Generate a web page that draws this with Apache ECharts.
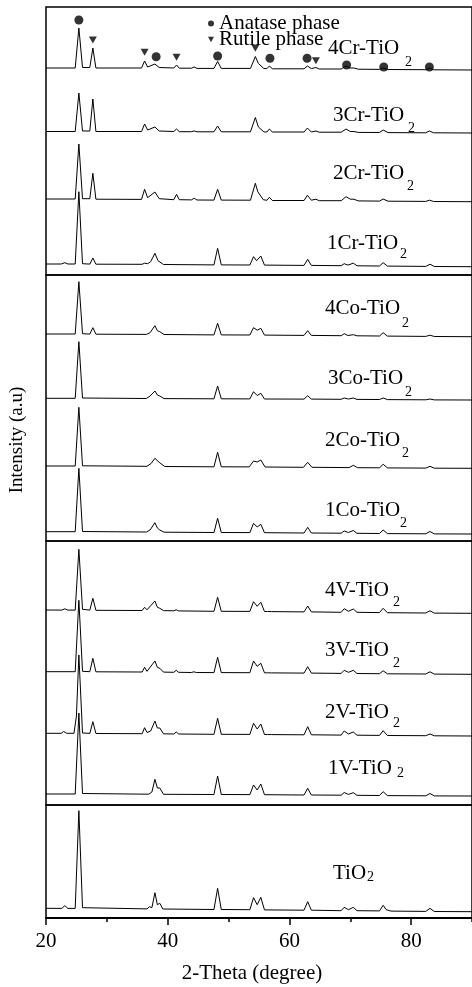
<!DOCTYPE html>
<html>
<head>
<meta charset="utf-8">
<script src="https://cdn.jsdelivr.net/npm/echarts@6/dist/echarts.min.js"></script>
<style>
  html, body { margin: 0; padding: 0; background: #fff; }
  #chart { width: 472px; height: 987px; }
</style>
</head>
<body>
<div id="chart"></div>
<script>
// XRD patterns: [2-theta (degree), intensity (a.u.)]
const xrd4Cr = [[20,2],[24.8,2],[25.4,42],[26.0,2.5],[27.2,2.5],[27.7,22],[28.2,2],[35.7,2],[36.2,9],[36.7,3],[37.9,6],[38.6,2.5],[41.0,2],[41.45,5],[41.9,1.8],[43.9,1.8],[44.35,3],[44.8,1.6],[47.6,1.6],[48.2,8.5],[48.8,1.6],[53.6,1.6],[54.4,13.5],[54.9,6.5],[55.2,6],[55.8,1.5],[56.3,1.4],[56.7,4],[57.2,1.2],[62.4,1.2],[62.95,4],[63.6,1.4],[64.35,2.5],[64.9,1],[68.5,1],[69.3,4],[70.0,2],[70.6,2],[71.3,0.8],[74.8,0.6],[75.4,2],[76.2,0.5],[82.4,0.3],[83.0,2],[83.7,0.2],[90,0]];
const xrd3Cr = [[20,1.5],[24.8,1.5],[25.4,40],[26.0,2],[27.2,2],[27.7,34],[28.2,1.5],[35.7,1.5],[36.2,9],[36.7,3],[37.9,6],[38.6,2],[41.0,1.5],[41.45,4],[41.9,1.3],[43.9,1.3],[44.35,2],[44.8,1.2],[47.6,1.2],[48.2,7],[48.8,1.2],[53.6,1.2],[54.4,15.5],[54.9,6],[55.2,5],[55.8,1.1],[56.3,1],[56.7,4],[57.2,1],[62.4,1],[62.95,5],[63.6,1],[64.35,2],[64.9,0.8],[68.5,0.8],[69.3,4],[70.0,1.5],[70.6,1.5],[71.3,0.6],[74.8,0.5],[75.4,3],[76.2,0.4],[82.4,0.2],[83.0,2],[83.7,0.2],[90,0]];
const xrd2Cr = [[20,2.7],[24.8,2.7],[25.4,57.7],[26.0,3],[27.2,3],[27.7,28.4],[28.2,2.5],[35.7,2.3],[36.2,12.4],[36.7,4],[37.9,9.7],[38.6,3],[41.0,2],[41.45,7.4],[41.9,2],[43.9,1.8],[44.35,3.5],[44.8,1.7],[47.6,1.6],[48.2,12.4],[48.8,1.6],[53.6,1.5],[54.4,18.4],[54.8,10],[55.1,10],[55.7,2],[56.3,1.4],[56.7,4.4],[57.2,1.2],[62.4,1.2],[62.95,6.4],[63.6,1.5],[64.35,2.5],[64.9,1],[68.5,1],[69.3,5],[70.0,2.5],[70.6,2.5],[71.3,0.8],[74.8,0.6],[75.4,2.7],[76.2,0.5],[82.4,0.3],[83.0,1.5],[83.7,0.2],[90,0]];
const xrd1Cr = [[20,2.7],[22.5,2.7],[23.1,4],[23.6,2.7],[24.8,2.7],[25.4,75],[26.0,3],[27.2,2.6],[27.7,8.7],[28.2,2.5],[35.8,2.4],[36.2,3.5],[36.7,3],[37.2,5],[37.5,5.5],[37.9,13.4],[38.4,6],[38.7,6],[39.3,2.2],[47.6,1.8],[48.2,18.4],[48.8,1.8],[53.5,1.7],[54.1,10],[54.6,6],[54.9,8],[55.3,10.7],[55.9,1.6],[62.4,1.3],[63.0,7.4],[63.6,1.3],[68.5,1],[69.0,3],[69.6,1.6],[70.5,3.5],[71.1,0.9],[74.8,0.7],[75.4,4],[76.1,0.6],[82.4,0.3],[83.1,2.5],[83.8,0.2],[90,0]];
const xrd4Co = [[20,2.7],[24.8,2.7],[25.4,55],[26.0,3],[27.2,2.6],[27.7,9],[28.2,2.5],[36.5,2.3],[37.1,4],[37.9,11],[38.3,6],[38.7,5],[39.4,2.2],[47.6,1.8],[48.2,13.4],[48.8,1.8],[53.5,1.7],[54.1,9],[54.7,6.5],[55.3,8.4],[55.9,1.6],[62.4,1.3],[63.0,6],[63.6,1.3],[68.5,1],[69.0,3],[69.6,1.2],[70.5,2],[71.1,0.9],[74.8,0.7],[75.4,4],[76.1,0.6],[82.4,0.3],[83.1,1.5],[83.8,0.2],[90,0]];
const xrd3Co = [[20,1.7],[24.8,1.7],[25.4,58.3],[26.0,2],[36.5,1.5],[37.1,4],[37.9,9],[38.3,5],[38.7,4],[39.4,1.4],[47.6,1.2],[48.2,14],[48.8,1.2],[53.5,1.1],[54.1,8.3],[54.7,4.5],[55.3,6.7],[55.9,1],[62.4,0.9],[63.0,4.3],[63.6,0.9],[68.5,0.7],[69.0,2],[69.7,1],[70.5,2],[71.1,0.6],[74.8,0.5],[75.4,2],[76.1,0.4],[82.4,0.2],[83.1,1],[83.8,0.1],[90,0]];
const xrd2Co = [[20,2.3],[24.8,2.3],[25.4,61],[26.0,2.5],[36.6,2],[37.3,5],[37.9,10],[38.6,6],[39.5,1.8],[47.6,1.5],[48.2,16],[48.8,1.5],[53.4,1.4],[54.1,7.3],[54.7,6.3],[55.3,8.3],[56.0,1.3],[62.3,1],[63.0,6],[63.7,1],[69.8,0.7],[70.5,3],[71.2,0.6],[74.8,0.5],[75.4,4],[76.1,0.4],[82.4,0.2],[83.1,2],[83.8,0.1],[90,0]];
const xrd1Co = [[20,2.3],[24.8,2.3],[25.4,65.7],[26.0,2.5],[36.5,2],[37.1,4],[37.9,11.3],[38.3,6],[38.7,4],[39.4,1.8],[47.6,1.5],[48.2,15.7],[48.8,1.5],[53.5,1.4],[54.1,10.7],[54.7,7],[55.3,9.7],[55.9,1.3],[62.4,1],[63.0,6.7],[63.6,1],[68.5,0.8],[69.0,3],[69.7,1.5],[70.5,3.5],[71.1,0.7],[74.8,0.5],[75.4,4],[76.1,0.4],[82.4,0.2],[83.1,2.5],[83.8,0.1],[90,0]];
const xrd4V = [[20,3.3],[22.6,3.2],[23.1,4.5],[23.6,3.2],[24.8,3.2],[25.4,64],[26.0,4],[27.2,3.2],[27.7,15],[28.2,3],[35.8,2.8],[36.2,6],[36.6,3.5],[37.9,12.3],[38.3,6],[38.7,5],[39.3,2.7],[41.0,2.5],[41.4,3.5],[41.8,2.4],[47.6,2],[48.2,16],[48.8,2],[53.5,1.9],[54.1,11.6],[54.7,7],[55.3,11],[55.9,1.8],[56.4,1.8],[56.7,3],[57.1,1.7],[62.4,1.4],[63.0,7.3],[63.6,1.4],[68.5,1],[69.0,4.6],[69.7,2],[70.5,4.3],[71.1,1],[74.8,0.7],[75.4,5],[76.1,0.6],[82.4,0.3],[83.1,2.5],[83.8,0.2],[90,0]];
const xrd3V = [[20,2.6],[24.8,2.6],[25.4,74],[26.0,3],[27.2,2.6],[27.7,16],[28.2,2.5],[35.8,2.3],[36.2,7],[36.6,3],[37.9,13.3],[38.3,7],[38.7,6],[39.3,2.2],[41.0,2],[41.4,4],[41.8,2],[43.9,1.8],[44.3,2.5],[44.7,1.8],[47.6,1.7],[48.2,17],[48.8,1.7],[53.5,1.6],[54.1,13.3],[54.7,8],[55.3,11],[55.9,1.5],[56.4,1.5],[56.7,3],[57.1,1.4],[62.4,1.2],[63.0,7.6],[63.6,1.2],[68.5,0.9],[69.0,4],[69.7,2],[70.5,4],[71.1,0.8],[74.8,0.6],[75.4,3.5],[76.1,0.5],[82.4,0.3],[83.1,2.5],[83.8,0.2],[90,0]];
const xrd2V = [[20,2.7],[22.5,2.7],[22.9,4.5],[23.4,2.7],[24.6,2.7],[25.0,20],[25.4,81],[26.0,3],[27.2,2.6],[27.7,14.3],[28.2,2.5],[35.8,2.3],[36.2,8.3],[36.6,3.5],[37.2,5],[37.9,15],[38.3,8],[38.7,8],[39.3,2.2],[41.0,2],[41.4,4],[41.8,2],[47.6,1.7],[48.2,17.7],[48.8,1.7],[53.5,1.6],[54.1,12.7],[54.7,7],[55.3,12],[55.9,1.5],[56.4,1.5],[56.7,3],[57.1,1.4],[62.4,1.2],[63.0,9.3],[63.6,1.2],[68.5,0.9],[69.0,5],[69.7,2],[70.5,4],[71.1,0.8],[74.8,0.6],[75.4,5.3],[76.1,0.5],[82.4,0.3],[83.1,2],[83.8,0.2],[90,0]];
const xrd1V = [[20,2],[24.8,2],[25.4,83],[26.0,2.5],[36.9,1.8],[37.4,4],[37.9,16.7],[38.3,8],[38.7,8],[39.3,1.7],[47.6,1.5],[48.2,20],[48.8,1.5],[53.5,1.4],[54.1,11],[54.7,6],[55.3,12],[55.9,1.3],[62.4,1],[63.0,7.7],[63.6,1],[68.5,0.8],[69.0,3.5],[69.7,1.6],[70.5,3.3],[71.1,0.7],[74.8,0.5],[75.4,4.3],[76.1,0.4],[82.4,0.2],[83.1,2.5],[83.8,0.1],[90,0]];
const xrdTiO2 = [[20,3.4],[22.6,3.3],[23.1,6],[23.6,3.3],[24.8,3.3],[25.4,101],[26.0,4],[36.6,2.8],[37.0,5],[37.4,4],[37.9,19],[38.3,7],[38.7,8.4],[39.2,2.7],[47.6,2.2],[48.2,23.4],[48.8,2.2],[53.5,2],[54.1,14],[54.7,7],[55.3,14.4],[55.9,1.8],[62.4,1.5],[63.0,10],[63.6,1.5],[68.5,1],[69.0,4.4],[69.7,2],[70.5,4.4],[71.1,1],[74.8,0.8],[75.4,6.4],[75.9,2],[76.2,2.5],[76.7,0.6],[82.4,0.3],[83.1,3.4],[83.8,0.2],[90,0]];

const patterns = [xrd4Cr, xrd3Cr, xrd2Cr, xrd1Cr, xrd4Co, xrd3Co, xrd2Co, xrd1Co, xrd4V, xrd3V, xrd2V, xrd1V, xrdTiO2];
const sampleNames = ['4Cr-TiO', '3Cr-TiO', '2Cr-TiO', '1Cr-TiO', '4Co-TiO', '3Co-TiO', '2Co-TiO', '1Co-TiO', '4V-TiO', '3V-TiO', '2V-TiO', '1V-TiO', 'TiO'];
// vertical shift of each trace inside its panel (a.u.)
const traceOffset = [205, 142, 73.3, 8.3, 204.3, 141, 72.7, 7, 191.7, 130.7, 69, 9, 6.3];
const tracePanel = [0, 0, 0, 0, 1, 1, 1, 1, 2, 2, 2, 2, 3];

// phase markers over the 4Cr-TiO2 pattern: [2-theta, a.u.]
const anataseMarks = [[25.4, 255], [38.1, 218.3], [48.2, 219], [56.8, 216.7], [62.9, 216.7], [69.4, 210], [75.5, 208], [83.0, 208]];
const rutileMarks = [[27.7, 235], [36.2, 222.7], [41.45, 217.7], [54.4, 226.7], [64.35, 214.3]];

const thetaRange = [20, 90];

const FONT = '"Liberation Serif", "Times New Roman", serif';

const chart = echarts.init(document.getElementById('chart'));

// panel layout (px)
const panels = [
  { top: 7, height: 268 },
  { top: 275, height: 266 },
  { top: 541, height: 264 },
  { top: 805, height: 113 }
];

const grid = panels.map(p => ({
  left: 46, right: -1, top: p.top, height: p.height,
  show: true, borderColor: '#000', borderWidth: 1.5, backgroundColor: 'transparent'
}));

const xAxis = panels.map((p, i) => ({
  type: 'value', gridIndex: i, min: thetaRange[0], max: thetaRange[1],
  show: i === 3, interval: 20,
  axisLine: { show: true, lineStyle: { color: '#000', width: 2 } },
  axisTick: { show: true, length: 7, lineStyle: { color: '#000', width: 1.5 } },
  axisLabel: { show: true, fontFamily: FONT, fontSize: 21, color: '#000', margin: 13, showMaxLabel: false },
  splitLine: { show: false }
}));
// minor ticks every 10 degrees on the bottom axis
xAxis.push({
  type: 'value', gridIndex: 3, min: thetaRange[0], max: thetaRange[1], interval: 10, position: 'bottom',
  axisLine: { show: false },
  axisTick: { show: true, length: 4, lineStyle: { color: '#000', width: 1.5 } },
  axisLabel: { show: false },
  splitLine: { show: false }
});

const yAxis = panels.map((p, i) => ({
  type: 'value', gridIndex: i, min: 0, max: p.height, show: false, splitLine: { show: false }
}));

const series = patterns.map((pts, i) => ({
  name: sampleNames[i],
  type: 'line',
  xAxisIndex: tracePanel[i],
  yAxisIndex: tracePanel[i],
  data: pts.map(d => [d[0], d[1] + traceOffset[i]]),
  symbol: 'none',
  lineStyle: { color: '#000', width: 1 },
  silent: true,
  z: 2
}));

series.push({
  name: 'Anatase phase', type: 'scatter', xAxisIndex: 0, yAxisIndex: 0,
  data: anataseMarks, symbol: 'circle', symbolSize: 9,
  itemStyle: { color: '#000' }, silent: true, z: 3
});
series.push({
  name: 'Rutile phase', type: 'scatter', xAxisIndex: 0, yAxisIndex: 0,
  data: rutileMarks, symbol: 'triangle', symbolRotate: 180, symbolSize: [8, 7],
  itemStyle: { color: '#000' }, silent: true, z: 3
});

// sample labels: main text + subscript 2
const labelLayout = [
  [328, 48, 405, 62], [333, 115, 408, 128], [333, 173, 407, 186], [327, 243, 400, 254],
  [325, 308, 402, 323], [328, 378, 405, 392], [325, 440, 402, 453], [325, 510, 400, 523],
  [325, 590, 393, 602], [325, 650, 393, 663], [325, 712, 393, 723], [328, 768, 397, 773],
  [333, 873, 367, 877]
];
const graphic = [];
labelLayout.forEach((l, i) => {
  graphic.push({
    type: 'text', x: l[0], y: l[1], silent: true,
    style: { text: sampleNames[i], font: '21px ' + FONT, fill: '#000', textAlign: 'left', textVerticalAlign: 'middle' }
  });
  graphic.push({
    type: 'text', x: l[2], y: l[3], silent: true,
    style: { text: '2', font: '14px ' + FONT, fill: '#000', textAlign: 'left', textVerticalAlign: 'middle' }
  });
});
graphic.push({
  type: 'text', x: 17, y: 440, rotation: Math.PI / 2, silent: true,
  style: { text: 'Intensity (a.u)', font: '19px ' + FONT, fill: '#000', textAlign: 'center', textVerticalAlign: 'middle' }
});
graphic.push({
  type: 'text', x: 252, y: 973, silent: true,
  style: { text: '2-Theta (degree)', font: '21px ' + FONT, fill: '#000', textAlign: 'center', textVerticalAlign: 'middle' }
});

chart.setOption({
  animation: false,
  backgroundColor: '#fff',
  grid: grid,
  xAxis: xAxis,
  yAxis: yAxis,
  legend: {
    orient: 'vertical', left: 203, top: 8, itemWidth: 6, itemHeight: 6, itemGap: -5,
    selectedMode: false,
    textStyle: { fontFamily: FONT, fontSize: 21, color: '#000' },
    data: [
      { name: 'Anatase phase', icon: 'circle' },
      { name: 'Rutile phase', icon: 'path://M0,0L10,0L5,9Z' }
    ]
  },
  series: series,
  graphic: graphic
});
</script>
</body>
</html>
